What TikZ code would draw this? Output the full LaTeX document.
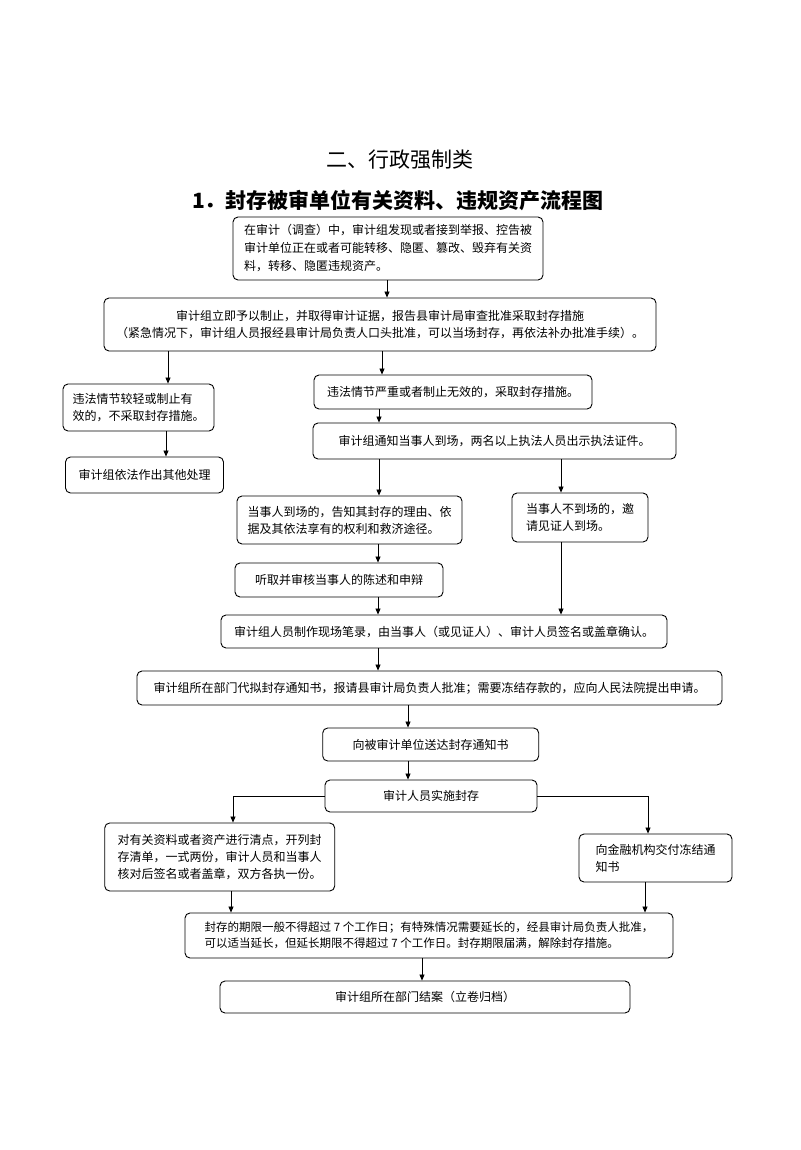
\documentclass[tikz,border=0pt]{standalone}
\usepackage{fontspec}
\setmainfont{Noto Sans CJK SC}
\usetikzlibrary{arrows.meta}
\tikzset{
  box/.style={draw, line width=0.9pt, rounded corners=5pt, inner sep=0pt,
    font=\fontsize{12}{17}\selectfont, align=center},
  boxl/.style={box, align=left},
  arr/.style={-{Triangle[length=6pt,width=5pt]}, line width=0.8pt},
}
\begin{document}
\begin{tikzpicture}[x=1pt,y=-1pt]
\useasboundingbox[fill=white] (0,0) rectangle (800,1150);
% titles
\node[font=\fontsize{21}{24}\selectfont] (t1) at (400,160) {二、行政强制类};
\node[font=\fontsize{21}{24}\selectfont\bfseries] (t2) at (398,200) {1．封存被审单位有关资料、违规资产流程图};
% boxes
\node[boxl, minimum width=310pt, minimum height=63pt, font=\fontsize{12}{18}\selectfont] (b1) at (388,248.5)
  {在审计（调查）中，审计组发现或者接到举报、控告被\\审计单位正在或者可能转移、隐匿、篡改、毁弃有关资\\料，转移、隐匿违规资产。};
\node[box, minimum width=552pt, minimum height=53pt] (b2) at (380,324.5)
  {审计组立即予以制止，并取得审计证据，报告县审计局审查批准采取封存措施\\（紧急情况下，审计组人员报经县审计局负责人口头批准，可以当场封存，再依法补办批准手续）。};
\node[boxl, minimum width=151pt, minimum height=47pt] (b3) at (138.5,407.5)
  {违法情节较轻或制止有\\效的，不采取封存措施。};
\node[box, minimum width=158pt, minimum height=36pt] (b5) at (144.5,475) {审计组依法作出其他处理};
\node[box, minimum width=278pt, minimum height=34pt] (b4) at (453,392) {违法情节严重或者制止无效的，采取封存措施。};
\node[box, minimum width=363pt, minimum height=36pt] (b6) at (494.5,441) {审计组通知当事人到场，两名以上执法人员出示执法证件。};
\node[boxl, minimum width=225pt, minimum height=48pt] (b7) at (349.5,520)
  {当事人到场的，告知其封存的理由、依\\据及其依法享有的权利和救济途径。};
\node[boxl, minimum width=136pt, minimum height=49pt] (b8) at (580,517.5)
  {当事人不到场的，邀\\请见证人到场。};
\node[box, minimum width=208pt, minimum height=34pt] (b9) at (339,580) {听取并审核当事人的陈述和申辩};
\node[box, minimum width=446pt, minimum height=33pt] (b10) at (444,631.5)
  {审计组人员制作现场笔录，由当事人（或见证人）、审计人员签名或盖章确认。};
\node[box, minimum width=585pt, minimum height=34pt] (b11) at (429.5,688)
  {审计组所在部门代拟封存通知书，报请县审计局负责人批准；需要冻结存款的，应向人民法院提出申请。};
\node[box, minimum width=216pt, minimum height=33pt] (b12) at (430.7,744.5) {向被审计单位送达封存通知书};
\node[box, minimum width=212pt, minimum height=32pt] (b13) at (431,796) {审计人员实施封存};
\node[boxl, minimum width=230pt, minimum height=68pt] (b14) at (219.7,857)
  {对有关资料或者资产进行清点，开列封\\存清单，一式两份，审计人员和当事人\\核对后签名或者盖章，双方各执一份。};
\node[boxl, minimum width=153pt, minimum height=48pt] (b15) at (655.5,858)
  {向金融机构交付冻结通\\知书};
\node[boxl, minimum width=488pt, minimum height=45pt, font=\fontsize{11.5}{16}\selectfont] (b16) at (429,935.5)
  {封存的期限一般不得超过 7 个工作日；有特殊情况需要延长的，经县审计局负责人批准，\\可以适当延长，但延长期限不得超过 7 个工作日。封存期限届满，解除封存措施。};
\node[box, minimum width=410pt, minimum height=32pt] (b17) at (425,997) {审计组所在部门结案（立卷归档）};
% x positions of connectors
\coordinate (xa) at (387,0);
\coordinate (xb) at (168,0);
\coordinate (xc) at (382,0);
\coordinate (xd) at (166,0);
\coordinate (xe) at (379,0);
\coordinate (xf) at (561,0);
\coordinate (xg) at (378,0);
\coordinate (xh) at (408,0);
\coordinate (xi) at (233,0);
\coordinate (xj) at (648,0);
\coordinate (xk) at (231,0);
\coordinate (xl) at (645,0);
\coordinate (xm) at (422,0);
% connectors
\draw[arr] (b1.south -| xa) -- (b2.north -| xa);
\draw[arr] (b2.south -| xb) -- (b3.north -| xb);
\draw[arr] (b2.south -| xc) -- (b4.north -| xc);
\draw[arr] (b3.south -| xd) -- (b5.north -| xd);
\draw[arr] (b4.south -| xe) -- (b6.north -| xe);
\draw[arr] (b6.south -| xe) -- (b7.north -| xe);
\draw[arr] (b6.south -| xf) -- (b8.north -| xf);
\draw[arr] (b7.south -| xg) -- (b9.north -| xg);
\draw[arr] (b9.south -| xg) -- (b10.north -| xg);
\draw[arr] (b8.south -| xf) -- (b10.north -| xf);
\draw[arr] (b10.south -| xg) -- (b11.north -| xg);
\draw[arr] (b11.south -| xh) -- (b12.north -| xh);
\draw[arr] (b12.south -| xh) -- (b13.north -| xh);
\draw[arr] (b13.west) -| (b14.north -| xi);
\draw[arr] (b13.east) -| (b15.north -| xj);
\draw[arr] (b14.south -| xk) -- (b16.north -| xk);
\draw[arr] (b15.south -| xl) -- (b16.north -| xl);
\draw[arr] (b16.south -| xm) -- (b17.north -| xm);
\end{tikzpicture}
\end{document}
